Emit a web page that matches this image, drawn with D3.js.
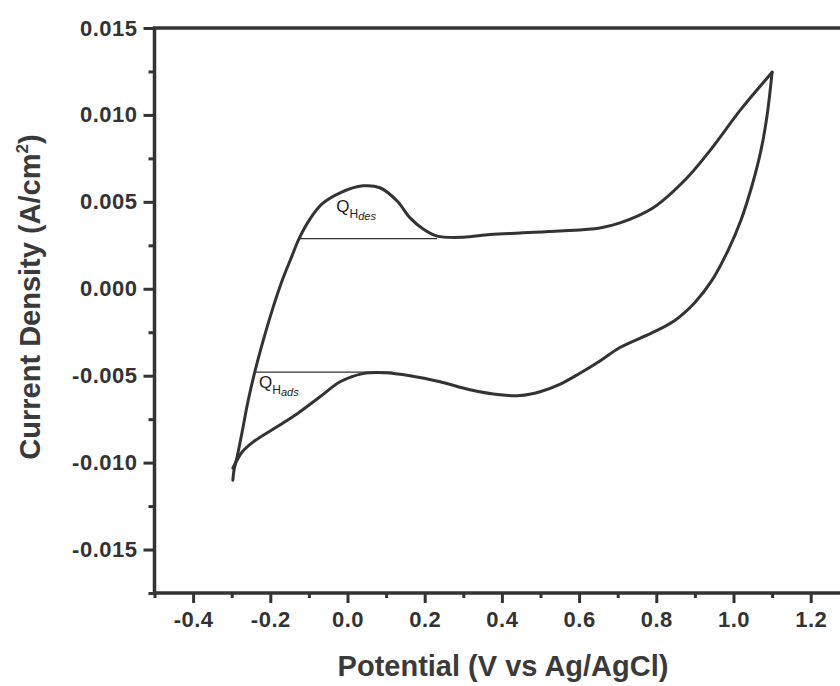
<!DOCTYPE html>
<html>
<head>
<meta charset="utf-8">
<script src="https://cdn.jsdelivr.net/npm/d3@7"></script>
<style>
  body { margin: 0; background: #fff; }
  svg { display: block; font-family: "Liberation Sans", Arial, sans-serif; }
  .tick-label { font-weight: bold; font-size: 22px; fill: #333; }
  .axis-title { font-weight: bold; font-size: 29px; fill: #3a3a3a; }
</style>
</head>
<body>
<svg id="chart" width="840" height="686"></svg>
<script>
// anodic sweep (-0.3 V -> 1.1 V), potential in V, current density in A/cm2
var forwardV = [-0.297, -0.294, -0.286, -0.273, -0.258, -0.240, -0.219, -0.196, -0.170, -0.144, -0.126, -0.097, -0.066, -0.019, 0.040, 0.084, 0.128, 0.162, 0.196, 0.232, 0.299, 0.369, 0.447, 0.550, 0.654, 0.706, 0.791, 0.880, 0.939, 1.017, 1.069, 1.100];
var forwardJ = [-0.01101, -0.01043, -0.00968, -0.00824, -0.00650, -0.00477, -0.00303, -0.00130, 0.00043, 0.00188, 0.00286, 0.00402, 0.00488, 0.00552, 0.00592, 0.00581, 0.00506, 0.00408, 0.00344, 0.00303, 0.00296, 0.00312, 0.00321, 0.00332, 0.00350, 0.00379, 0.00465, 0.00639, 0.00795, 0.01026, 0.01165, 0.01246];
// cathodic sweep (1.1 V -> -0.3 V)
var reverseV = [1.100, 1.087, 1.071, 1.048, 1.019, 0.986, 0.944, 0.900, 0.848, 0.791, 0.706, 0.654, 0.602, 0.550, 0.499, 0.447, 0.395, 0.317, 0.240, 0.162, 0.097, 0.040, -0.019, -0.071, -0.131, -0.188, -0.245, -0.273, -0.289, -0.297];
var reverseJ = [0.01246, 0.00997, 0.00795, 0.00594, 0.00393, 0.00221, 0.00048, -0.00079, -0.00182, -0.00251, -0.00338, -0.00415, -0.00486, -0.00550, -0.00592, -0.00614, -0.00610, -0.00581, -0.00535, -0.00500, -0.00483, -0.00488, -0.00535, -0.00621, -0.00720, -0.00801, -0.00882, -0.00939, -0.00997, -0.01032];

// baselines used for the hydrogen charge integration
var desBaseV = [-0.126, 0.232];
var desBaseJ = 0.00288;
var adsBaseV = [-0.240, 0.117];
var adsBaseJ = -0.0048;

var xTicks = [-0.4, -0.2, 0.0, 0.2, 0.4, 0.6, 0.8, 1.0, 1.2];
var xMinor = [-0.5, -0.3, -0.1, 0.1, 0.3, 0.5, 0.7, 0.9, 1.1];
var yTicks = [-0.015, -0.010, -0.005, 0.000, 0.005, 0.010, 0.015];
var yMinor = [-0.0175, -0.0125, -0.0075, -0.0025, 0.0025, 0.0075, 0.0125];

var svg = d3.select("#chart");
var ink = "#333";

var x = d3.scaleLinear().domain([-0.5, 1.3]).range([154.5, 849.3]);
var y = d3.scaleLinear().domain([-0.0175, 0.015]).range([593, 28]);

// plain hyphen instead of the unicode minus, as in the original plot
function fmt(spec) {
  var f = d3.format(spec);
  return function (d) { return f(d).replace("\u2212", "-"); };
}

// frame
svg.append("path")
  .attr("d", "M" + x(1.3) + "," + y(0.015) + " H" + x(-0.5) + " V" + y(-0.0175) + " H" + x(1.3))
  .attr("fill", "none").attr("stroke", ink).attr("stroke-width", 3.5);

// y axis
var gy = svg.append("g").attr("transform", "translate(" + x(-0.5) + ",0)")
  .call(d3.axisLeft(y).tickValues(yTicks).tickSize(11).tickPadding(6).tickFormat(fmt(".3f")));
gy.select(".domain").remove();
gy.selectAll("line").attr("stroke", ink).attr("stroke-width", 3);
gy.selectAll("text").attr("class", "tick-label").attr("font-family", null).attr("font-size", null)
  .attr("fill", ink).style("letter-spacing", "0.5px");
var gyMinor = svg.append("g").attr("transform", "translate(" + x(-0.5) + ",0)")
  .call(d3.axisLeft(y).tickValues(yMinor).tickSize(6).tickFormat(""));
gyMinor.select(".domain").remove();
gyMinor.selectAll("line").attr("stroke", ink).attr("stroke-width", 3);

// x axis
var gx = svg.append("g").attr("transform", "translate(0," + y(-0.0175) + ")")
  .call(d3.axisBottom(x).tickValues(xTicks).tickSize(10).tickPadding(8).tickFormat(fmt(".1f")));
gx.select(".domain").remove();
gx.selectAll("line").attr("stroke", ink).attr("stroke-width", 3);
gx.selectAll("text").attr("class", "tick-label").attr("font-family", null).attr("font-size", null)
  .attr("fill", ink).style("letter-spacing", "0.5px");
var gxMinor = svg.append("g").attr("transform", "translate(0," + y(-0.0175) + ")")
  .call(d3.axisBottom(x).tickValues(xMinor).tickSize(5).tickFormat(""));
gxMinor.select(".domain").remove();
gxMinor.selectAll("line").attr("stroke", ink).attr("stroke-width", 3);

// axis titles
svg.append("text").attr("class", "axis-title")
  .attr("x", 503).attr("y", 676).attr("text-anchor", "middle")
  .text("Potential (V vs Ag/AgCl)");
var yt = svg.append("text").attr("class", "axis-title")
  .attr("transform", "translate(40,297) rotate(-90)").attr("text-anchor", "middle");
yt.append("tspan").text("Current Density (A/cm");
yt.append("tspan").attr("font-size", "17px").attr("dy", -12).text("2");
yt.append("tspan").attr("dy", 12).text(")");

// CV curve
var line = d3.line()
  .x(function (d) { return x(d[0]); })
  .y(function (d) { return y(d[1]); })
  .curve(d3.curveCatmullRom.alpha(0.5));
var fwd = forwardV.map(function (v, i) { return [v, forwardJ[i]]; });
var rev = reverseV.map(function (v, i) { return [v, reverseJ[i]]; });
[fwd, rev].forEach(function (pts) {
  svg.append("path").datum(pts).attr("d", line)
    .attr("fill", "none").attr("stroke", ink).attr("stroke-width", 3)
    .attr("stroke-linejoin", "round").attr("stroke-linecap", "round");
});

// baselines
svg.append("line")
  .attr("x1", x(desBaseV[0])).attr("x2", x(desBaseV[1]))
  .attr("y1", y(desBaseJ)).attr("y2", y(desBaseJ))
  .attr("stroke", ink).attr("stroke-width", 1.2);
svg.append("line")
  .attr("x1", x(adsBaseV[0])).attr("x2", x(adsBaseV[1]))
  .attr("y1", y(adsBaseJ)).attr("y2", y(adsBaseJ))
  .attr("stroke", ink).attr("stroke-width", 1.2);

// Q labels
function qLabel(v, j, sub) {
  var t = svg.append("text").attr("x", x(v)).attr("y", y(j)).attr("fill", "#222");
  t.append("tspan").attr("font-size", "17px").text("Q");
  t.append("tspan").attr("font-size", "12px").attr("dy", 6).text("H");
  t.append("tspan").attr("font-size", "11px").attr("font-style", "italic").attr("dy", 2).text(sub);
}
qLabel(-0.029, 0.0044, "des");
qLabel(-0.229, -0.0057, "ads");
</script>
</body>
</html>
